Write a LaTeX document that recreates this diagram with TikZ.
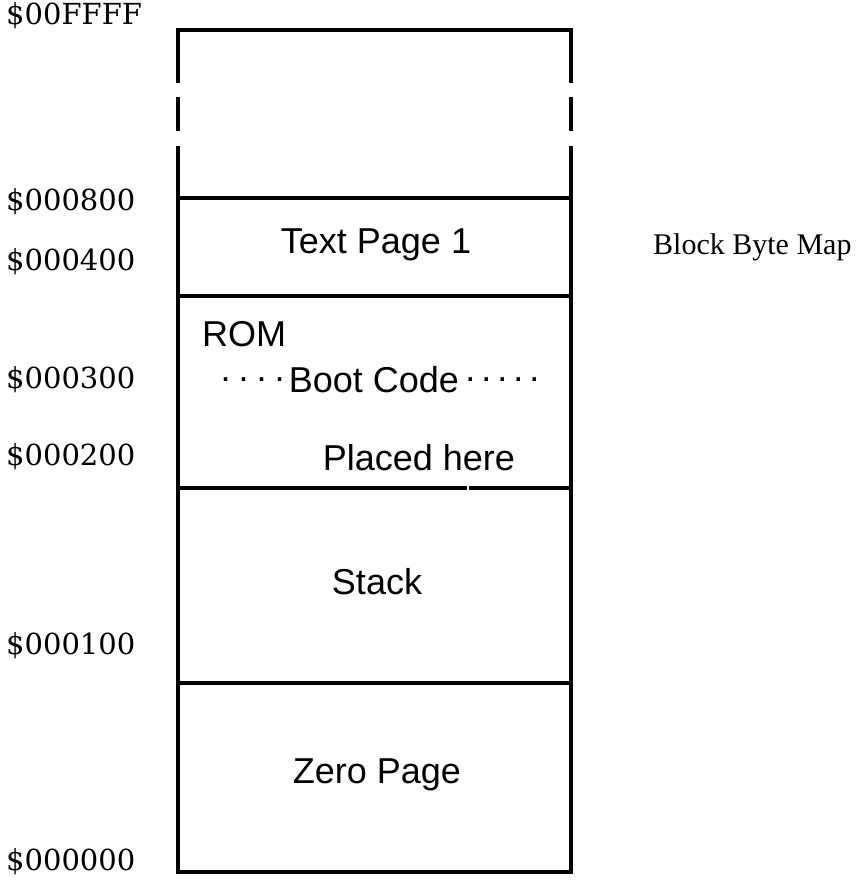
\documentclass[tikz,border=0pt]{standalone}
\usepackage{fontspec}
\setmainfont{Liberation Serif}
\newfontfamily\sansfam{Liberation Sans}
\newfontfamily\addrfam{DejaVu Serif}
\tikzset{
  addr/.style={anchor=west, inner sep=0pt, font=\addrfam\fontsize{29}{32}\selectfont},
  inbox/.style={inner sep=0pt, font=\sansfam\fontsize{36}{40}\selectfont},
  wall/.style={line width=3.8pt, line cap=rect},
}
\begin{document}
\begin{tikzpicture}[x=1pt,y=-1pt]
\useasboundingbox (0,0) rectangle (862,883);
% corner coordinates
\coordinate (tl) at (178,30);
\coordinate (tr) at (571,30);
\coordinate (bl) at (178,872);
\coordinate (br) at (571,872);
% broken upper sides
\coordinate (l1) at (178,81);  \coordinate (l2) at (178,99);
\coordinate (l3) at (178,129); \coordinate (l4) at (178,148);
\coordinate (r1) at (571,81);  \coordinate (r2) at (571,99);
\coordinate (r3) at (571,129); \coordinate (r4) at (571,148);
\draw[wall] (l1) -- (tl) -- (tr) -- (r1);
\draw[wall] (l2) -- (l3);
\draw[wall] (r2) -- (r3);
\draw[wall] (l4) -- (bl) -- (br) -- (r4);
% dividers
\coordinate (a800l) at (178,198); \coordinate (a800r) at (571,198);
\coordinate (a400l) at (178,296); \coordinate (a400r) at (571,296);
\coordinate (a200l) at (178,488); \coordinate (a200r) at (571,488);
\coordinate (a200g1) at (465,488); \coordinate (a200g2) at (471,488);
\coordinate (a100l) at (178,683); \coordinate (a100r) at (571,683);
\draw[wall] (a800l) -- (a800r);
\draw[wall] (a400l) -- (a400r);
\draw[wall] (a200l) -- (a200g1);
\draw[wall] (a200g2) -- (a200r);
\draw[wall] (a100l) -- (a100r);
% address labels
\node[addr] (lFFFF) at (6,16) {\$00FFFF};
\node[addr] (l800) at (6,202) {\$000800};
\node[addr] (l400) at (6,262) {\$000400};
\node[addr] (l300) at (6,380) {\$000300};
\node[addr] (l200) at (6,457) {\$000200};
\node[addr] (l100) at (6,646) {\$000100};
\node[addr] (l000) at (6,862) {\$000000};
% box contents
\node[inbox] (tp1) at (376,245) {Text Page 1};
\node[inbox, anchor=west] (rom) at (202,334) {ROM};
\node[inbox] (boot) at (374,380) {Boot Code};
\node[inbox, anchor=east] (dotsl) at (boot.west) {.\kern8pt.\kern8pt.\kern8pt.\kern4pt};
\node[inbox, anchor=west] (dotsr) at (boot.east) {\kern6pt.\kern6pt.\kern6pt.\kern6pt.\kern6pt.};
\node[inbox] (placed) at (419,458) {Placed here};
\node[inbox] (stack) at (377,582) {Stack};
\node[inbox] (zero) at (377,775) {Zero Page};
% title
\node[anchor=west, inner sep=0pt, font=\fontsize{30}{34}\selectfont] (title) at (653,247) {Block Byte Map};
\end{tikzpicture}
\end{document}
